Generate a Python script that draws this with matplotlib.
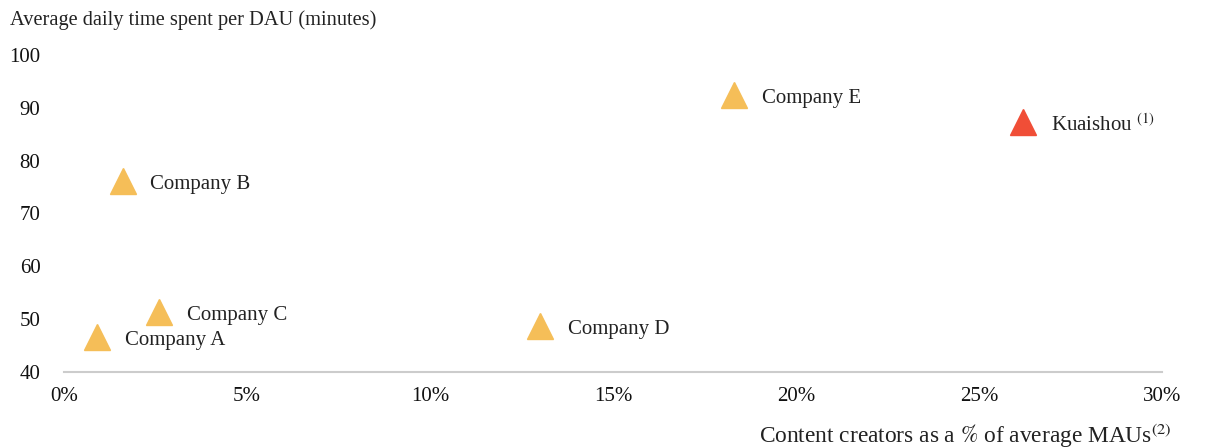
import matplotlib.pyplot as plt
from matplotlib.ticker import FuncFormatter

plt.rcParams['font.family'] = ['Liberation Serif', 'DejaVu Serif']
plt.rcParams['mathtext.fontset'] = 'stix'

companies = ['Company A', 'Company B', 'Company C', 'Company D', 'Company E', 'Kuaishou']
creator_pct = [0.9, 1.6, 2.6, 13.0, 18.3, 26.2]
time_spent = [46.6, 76.2, 51.4, 48.7, 92.5, 87.3]
colors = ['#F5BE58'] * 5 + ['#F04E37']
labels = companies[:5] + ['Kuaishou $^{(1)}$']

fig = plt.figure(figsize=(12.08, 4.48), dpi=100)
ax = fig.add_axes([0.053, 0.17, 0.909, 0.707])

for x, y, c, lab in zip(creator_pct, time_spent, colors, labels):
    ax.plot(x, y, marker='^', ms=19, color=c, linestyle='none')
    ax.annotate(lab, (x, y), xytext=(20, -2.5), textcoords='offset points',
                va='center', ha='left', fontsize=15, color='#222222')

ax.set_xlim(0, 30)
ax.set_ylim(40, 100)
ax.set_xticks(range(0, 31, 5))
ax.set_yticks(range(40, 101, 10))
ax.xaxis.set_major_formatter(FuncFormatter(lambda v, p: f'{int(v)}%'))
ax.tick_params(length=0, labelsize=15, colors='#111111')
ax.tick_params(axis='x', pad=11)
ax.tick_params(axis='y', pad=17)
for s in ['top', 'right', 'left']:
    ax.spines[s].set_visible(False)
ax.spines['bottom'].set_color('#cccccc')
ax.spines['bottom'].set_linewidth(1.5)

fig.text(10 / 1208, 1 - 20 / 448, 'Average daily time spent per DAU (minutes)',
         ha='left', va='center', fontsize=14.7, color='#222222')
fig.text(1172 / 1208, 1 - 443 / 448, r'Content creators as a $\%$ of average MAUs$^{(2)}$',
         ha='right', va='baseline', fontsize=16.8, color='#222222')

fig.savefig('out.png', dpi=100)
